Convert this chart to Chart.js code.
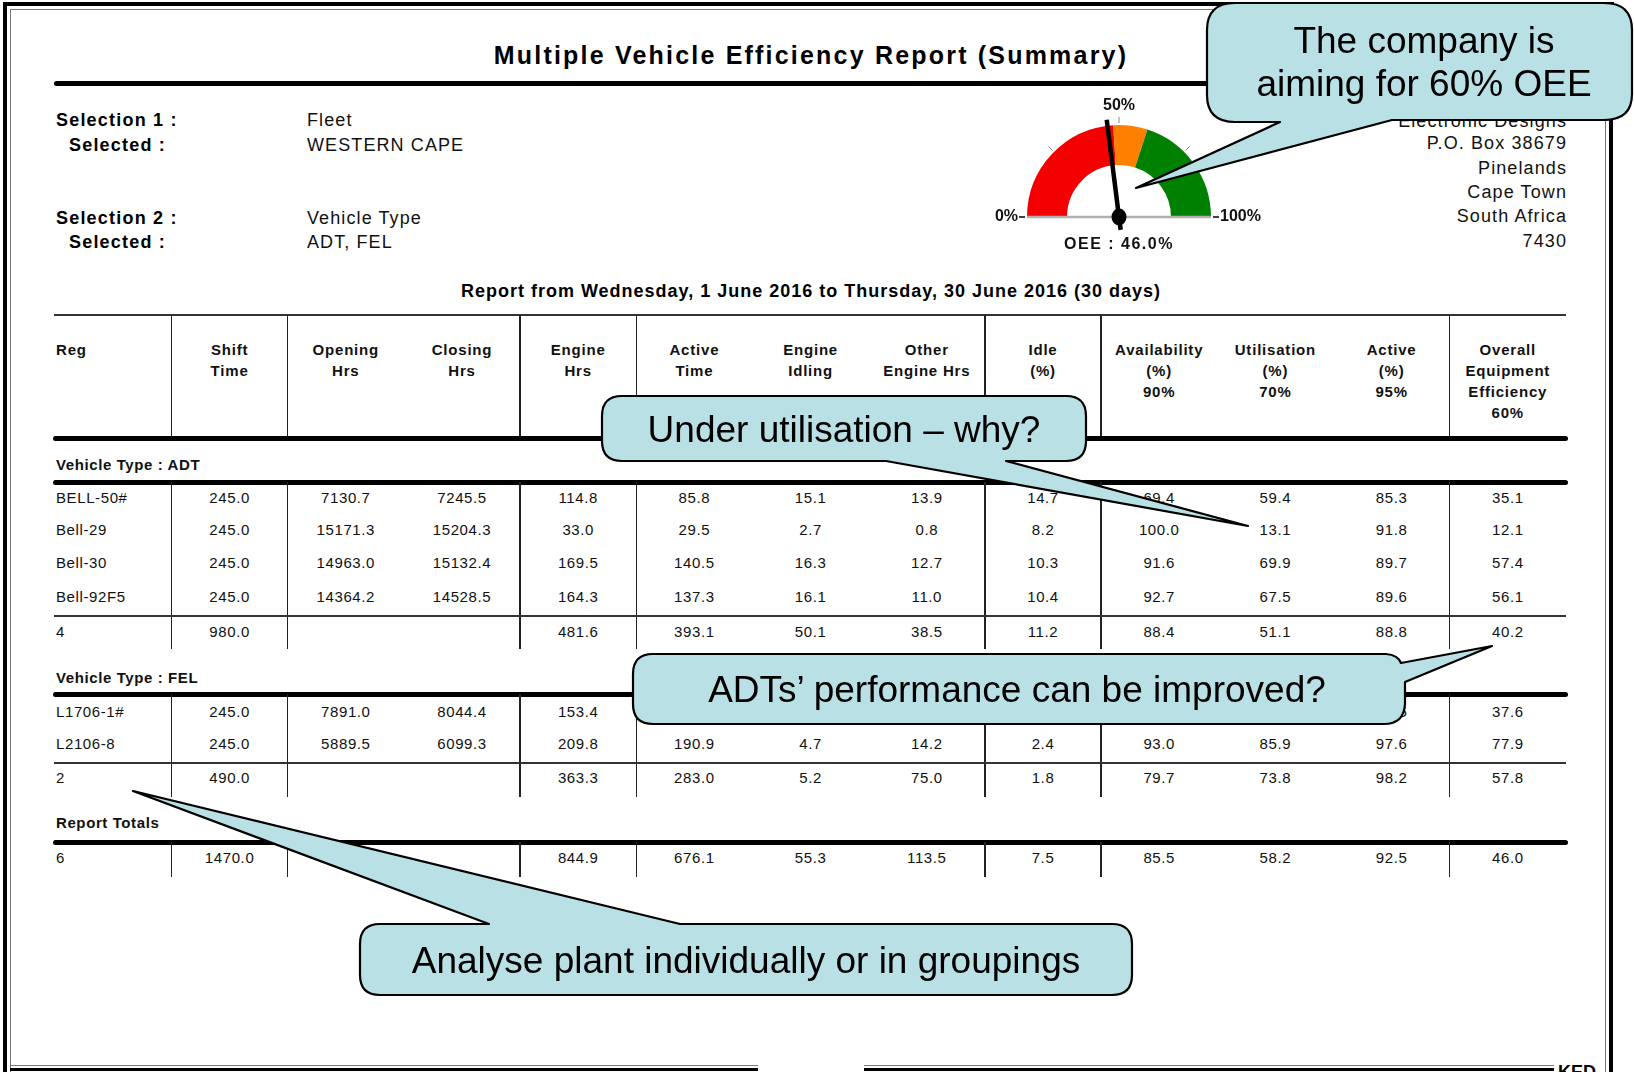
<!DOCTYPE html>
<html>
<head>
<meta charset="utf-8">
<title>Multiple Vehicle Efficiency Report (Summary)</title>
<script src="https://cdn.jsdelivr.net/npm/chart.js@4.4.1/dist/chart.umd.min.js"></script>
<style>
    html, body { margin: 0; padding: 0; background: #fff; }
    #page {
        position: relative; width: 1634px; height: 1072px; overflow: hidden; background: #fff;
        font-family: 'Liberation Sans', Arial, sans-serif; color: #000;
    }
    .t { position: absolute; white-space: nowrap; line-height: 24px; height: 24px; }
    .c { transform: translateX(-50%); }
    .r { transform: translateX(-100%); }
    .title { font-weight: bold; font-size: 25px; letter-spacing: 2.2px; }
    .lbl { font-weight: bold; font-size: 18px; letter-spacing: 1.2px; }
    .val { font-size: 18px; letter-spacing: 1.1px; color: #111; }
    .rep { font-weight: bold; font-size: 18px; letter-spacing: 1px; }
    .hd { font-weight: bold; font-size: 15px; letter-spacing: 0.8px; color: #111; }
    .grp { font-weight: bold; font-size: 15px; letter-spacing: 0.6px; color: #111; }
    .cell { font-size: 15px; letter-spacing: 0.6px; color: #111; }
    .ln { position: absolute; background: #000; }
    .logo { font-weight: bold; font-size: 18px; }
    #gauge { position: absolute; left: 949px; top: 95px; }
    #callouts { position: absolute; left: 0; top: 0; z-index: 10; }
</style>
</head>
<body>
<div id="page">
    <!-- moldura dupla -->
    <div class="ln" style="left:3px;top:2px;width:4px;height:1072px;"></div>
    <div class="ln" style="left:3px;top:2px;width:1611px;height:4px;"></div>
    <div class="ln" style="left:1609px;top:2px;width:4px;height:1072px;"></div>
    <div class="ln" style="left:10px;top:9px;width:1px;height:1072px;background:#777;"></div>
    <div class="ln" style="left:10px;top:9px;width:1596px;height:1px;background:#777;"></div>
    <div class="ln" style="left:1605px;top:9px;width:1px;height:1072px;background:#777;"></div>
    <div class="ln" style="left:10px;top:1065px;width:748px;height:1px;background:#777;"></div>
    <div class="ln" style="left:10px;top:1068px;width:748px;height:3px;"></div>
    <div class="ln" style="left:864px;top:1065px;width:690px;height:1px;background:#777;"></div>
    <div class="ln" style="left:864px;top:1068px;width:690px;height:3px;"></div>
    <div class="t logo" style="left:1558px;top:1060px;">KED</div>

    <canvas id="gauge" width="340" height="170"></canvas>

    <svg id="callouts" width="1634" height="1072" viewBox="0 0 1634 1072">
        <g fill="#b9e0e4" stroke="#000" stroke-width="2.2" stroke-linejoin="round">
            <path d="M1235,3 H1604 Q1632,3 1632,30 V94 Q1632,120 1604,120 H1392 L1136,188 L1280,122 H1235 Q1207,122 1207,95 V30 Q1207,3 1235,3 Z"/>
            <path d="M622,396 H1066 Q1086,396 1086,416 V441 Q1086,461 1066,461 H1006 L1248,526 L886,461 H622 Q602,461 602,441 V416 Q602,396 622,396 Z"/>
            <path d="M653,654 H1386 Q1398,655 1401,663 L1492,646 L1405,682 V704 Q1404,724 1384,724 H653 Q633,724 633,704 V674 Q633,654 653,654 Z"/>
            <path d="M380,924 H489 L133,791 L680,924 H1112 Q1132,924 1132,944 V975 Q1132,995 1112,995 H380 Q360,995 360,975 V944 Q360,924 380,924 Z"/>
        </g>
        <g font-family="'Liberation Sans', Arial, sans-serif" font-size="37" fill="#000" text-anchor="middle" dominant-baseline="central">
            <text x="1424" y="40">The company is</text>
            <text x="1424" y="83">aiming for 60% OEE</text>
            <text x="844" y="429">Under utilisation – why?</text>
            <text x="1017" y="689">ADTs’ performance can be improved?</text>
            <text x="746" y="960">Analyse plant individually or in groupings</text>
        </g>
    </svg>
</div>

<script>
/**
 * Dados do relatório
 */
const reportTitle = 'Multiple Vehicle Efficiency Report (Summary)';
const selectionLabels = ['Selection 1 :', 'Selected :', 'Selection 2 :', 'Selected :'];
const selectionValues = ['Fleet', 'WESTERN CAPE', 'Vehicle Type', 'ADT, FEL'];
const addressLines = ['Electronic Designs', 'P.O. Box 38679', 'Pinelands', 'Cape Town', 'South Africa', '7430'];
const periodText = 'Report from Wednesday, 1 June 2016 to Thursday, 30 June 2016 (30 days)';

// Gauge OEE
const oeeValue = 46.0;
const bandNames = ['Poor', 'Fair', 'Good'];
const bandLimits = [48, 60, 100];
const bandColors = ['#f50000', '#ff8000', '#008000'];
const gaugeTicks = [0, 25, 50, 75, 100];
const gaugeTickLabels = ['0%', '', '50%', '', '100%'];

// Tabela
const headerLines = [
    ['Reg'], ['Shift', 'Time'], ['Opening', 'Hrs'], ['Closing', 'Hrs'], ['Engine', 'Hrs'],
    ['Active', 'Time'], ['Engine', 'Idling'], ['Other', 'Engine Hrs'], ['Idle', '(%)'],
    ['Availability', '(%)', '90%'], ['Utilisation', '(%)', '70%'], ['Active', '(%)', '95%'],
    ['Overall', 'Equipment', 'Efficiency', '60%']
];

const adtLabel = 'Vehicle Type : ADT';
const adtRegs = ['BELL-50#', 'Bell-29', 'Bell-30', 'Bell-92F5'];
const adtRows = [
    [245.0, 7130.7, 7245.5, 114.8, 85.8, 15.1, 13.9, 14.7, 69.4, 59.4, 85.3, 35.1],
    [245.0, 15171.3, 15204.3, 33.0, 29.5, 2.7, 0.8, 8.2, 100.0, 13.1, 91.8, 12.1],
    [245.0, 14963.0, 15132.4, 169.5, 140.5, 16.3, 12.7, 10.3, 91.6, 69.9, 89.7, 57.4],
    [245.0, 14364.2, 14528.5, 164.3, 137.3, 16.1, 11.0, 10.4, 92.7, 67.5, 89.6, 56.1]
];
const adtCount = '4';
const adtTotals = [980.0, null, null, 481.6, 393.1, 50.1, 38.5, 11.2, 88.4, 51.1, 88.8, 40.2];

const felLabel = 'Vehicle Type : FEL';
const felRegs = ['L1706-1#', 'L2106-8'];
const felRows = [
    [245.0, 7891.0, 8044.4, 153.4, 92.1, 0.5, 60.8, 0.5, 64.0, 59.0, 99.5, 37.6],
    [245.0, 5889.5, 6099.3, 209.8, 190.9, 4.7, 14.2, 2.4, 93.0, 85.9, 97.6, 77.9]
];
const felCount = '2';
const felTotals = [490.0, null, null, 363.3, 283.0, 5.2, 75.0, 1.8, 79.7, 73.8, 98.2, 57.8];

const totalsLabel = 'Report Totals';
const totalsCount = '6';
const grandTotals = [1470.0, null, null, 844.9, 676.1, 55.3, 113.5, 7.5, 85.5, 58.2, 92.5, 46.0];

/**
 * Layout
 */
const page = document.getElementById('page');
const TABLE_LEFT = 56;
const TABLE_RIGHT = 1566;
const FIRST_DIV = 171.5;
const COL_W = 116.2;
const DIVIDER_COLS = [0, 1, 3, 4, 7, 8, 11];

function addText(str, x, y, cls, align) {
    const el = document.createElement('div');
    el.className = 't ' + cls + (align === 'center' ? ' c' : align === 'right' ? ' r' : '');
    el.textContent = str;
    el.style.left = x + 'px';
    el.style.top = (y - 12) + 'px';
    page.insertBefore(el, document.getElementById('callouts'));
}

function addLine(x, y, w, h, color, radius) {
    const el = document.createElement('div');
    el.className = 'ln';
    el.style.left = x + 'px';
    el.style.top = (y - h / 2) + 'px';
    el.style.width = w + 'px';
    el.style.height = h + 'px';
    if (color) el.style.background = color;
    if (radius) el.style.borderRadius = radius + 'px';
    page.insertBefore(el, document.getElementById('callouts'));
}

function colCenter(i) {
    return FIRST_DIV + COL_W * (i - 0.5);
}

function addDividers(y0, y1) {
    DIVIDER_COLS.forEach(k => addLine(FIRST_DIV + COL_W * k - 0.75, (y0 + y1) / 2, 1.5, y1 - y0, '#222'));
}

function addRow(reg, values, y) {
    addText(reg, TABLE_LEFT, y, 'cell');
    values.forEach((v, i) => {
        if (v !== null) addText(v.toFixed(1), colCenter(i + 1), y, 'cell', 'center');
    });
}

// Cabeçalho do relatório
addText(reportTitle, 811, 55, 'title', 'center');
addLine(54, 83, 1514, 5, '#000', 3);
[120, 145, 218, 242].forEach((y, i) => {
    addText(selectionLabels[i], i % 2 === 0 ? 56 : 69, y, 'lbl');
    addText(selectionValues[i], 307, y, 'val');
});
[121, 143, 168, 192, 216, 241].forEach((y, i) => addText(addressLines[i], 1567, y, 'val', 'right'));
addText(periodText, 811, 291, 'rep', 'center');

// Cabeçalho da tabela
addLine(TABLE_LEFT - 2, 315, TABLE_RIGHT - TABLE_LEFT + 2, 1.5, '#333');
headerLines.forEach((lines, i) => {
    lines.forEach((s, j) => {
        const y = 350 + j * 21;
        if (i === 0) addText(s, TABLE_LEFT, y, 'hd');
        else addText(s, colCenter(i), y, 'hd', 'center');
    });
});
addDividers(315, 436);
addLine(TABLE_LEFT - 3, 438, TABLE_RIGHT - TABLE_LEFT + 5, 5, '#000', 3);

// Seções
const sections = [
    { label: adtLabel, regs: adtRegs, rows: adtRows, count: adtCount, totals: adtTotals,
      labelY: 465, thickY: 482, rowY: [498, 530, 563, 597], thinY: 616, subY: 632, endY: 649 },
    { label: felLabel, regs: felRegs, rows: felRows, count: felCount, totals: felTotals,
      labelY: 678, thickY: 694, rowY: [712, 744], thinY: 763, subY: 778, endY: 797 },
    { label: totalsLabel, regs: [totalsCount], rows: [grandTotals], count: null, totals: null,
      labelY: 823, thickY: 842, rowY: [858], thinY: null, subY: null, endY: 877 }
];

sections.forEach(s => {
    addText(s.label, TABLE_LEFT, s.labelY, 'grp');
    addLine(TABLE_LEFT - 3, s.thickY, TABLE_RIGHT - TABLE_LEFT + 5, 5, '#000', 3);
    addDividers(s.thickY, s.endY);
    s.rows.forEach((r, i) => addRow(s.regs[i], r, s.rowY[i]));
    if (s.thinY) addLine(TABLE_LEFT - 2, s.thinY, TABLE_RIGHT - TABLE_LEFT + 2, 1.5, '#333');
    if (s.totals) addRow(s.count, s.totals, s.subY);
});

/**
 * Gauge (Chart.js doughnut semicircular)
 */
const bandSizes = bandLimits.map((v, i) => v - (i > 0 ? bandLimits[i - 1] : 0));

const gaugeDecor = {
    id: 'gaugeDecor',
    afterDatasetsDraw(chart) {
        const arcs = chart.getDatasetMeta(0).data;
        const cx = arcs[0].x;
        const cy = arcs[0].y;
        const R = arcs[0].outerRadius;
        const start = arcs[0].startAngle;
        const end = arcs[arcs.length - 1].endAngle;
        const angleOf = v => start + (end - start) * v / 100;
        const ctx = chart.ctx;
        ctx.save();

        // linha de base
        ctx.strokeStyle = '#b0b0b0';
        ctx.lineWidth = 2.5;
        ctx.beginPath();
        ctx.moveTo(cx - R, cy);
        ctx.lineTo(cx + R, cy);
        ctx.stroke();

        // marcas e rótulos
        ctx.font = 'bold 16px "Liberation Sans", Arial, sans-serif';
        ctx.fillStyle = '#111';
        ctx.textBaseline = 'middle';
        gaugeTicks.forEach((v, i) => {
            const a = angleOf(v);
            const edge = v === 0 || v === 100;
            ctx.strokeStyle = edge ? '#000' : '#888';
            ctx.lineWidth = edge ? 1.5 : 1;
            ctx.beginPath();
            ctx.moveTo(cx + (R + 2) * Math.cos(a), cy + (R + 2) * Math.sin(a));
            ctx.lineTo(cx + (R + 8) * Math.cos(a), cy + (R + 8) * Math.sin(a));
            ctx.stroke();
            const txt = gaugeTickLabels[i];
            if (!txt) return;
            if (v === 0) {
                ctx.textAlign = 'right';
                ctx.fillText(txt, cx - R - 9, cy);
            } else if (v === 100) {
                ctx.textAlign = 'left';
                ctx.fillText(txt, cx + R + 9, cy);
            } else {
                ctx.textAlign = 'center';
                ctx.fillText(txt, cx + (R + 19) * Math.cos(a), cy + (R + 19) * Math.sin(a));
            }
        });

        // ponteiro
        const a = angleOf(oeeValue);
        ctx.strokeStyle = '#000';
        ctx.lineWidth = 4.5;
        ctx.beginPath();
        ctx.moveTo(cx - 13 * Math.cos(a), cy - 13 * Math.sin(a));
        ctx.lineTo(cx + (R + 6) * Math.cos(a), cy + (R + 6) * Math.sin(a));
        ctx.stroke();
        ctx.fillStyle = '#000';
        ctx.beginPath();
        ctx.ellipse(cx, cy, 7.5, 8.5, 0, 0, Math.PI * 2);
        ctx.fill();

        // valor
        ctx.fillStyle = '#111';
        ctx.textAlign = 'center';
        ctx.letterSpacing = '1.5px';
        ctx.fillText('OEE : ' + oeeValue.toFixed(1) + '%', cx, cy + 28);
        ctx.restore();
    }
};

new Chart(document.getElementById('gauge'), {
    type: 'doughnut',
    data: {
        labels: bandNames,
        datasets: [{
            data: bandSizes,
            backgroundColor: bandColors,
            borderWidth: 0,
            hoverOffset: 0
        }]
    },
    options: {
        responsive: false,
        animation: false,
        events: [],
        rotation: -90,
        circumference: 180,
        cutout: '56.5%',
        layout: { padding: { left: 78, right: 78, top: 30, bottom: 48 } },
        plugins: {
            legend: { display: false },
            tooltip: { enabled: false }
        }
    },
    plugins: [gaugeDecor]
});
</script>
</body>
</html>
